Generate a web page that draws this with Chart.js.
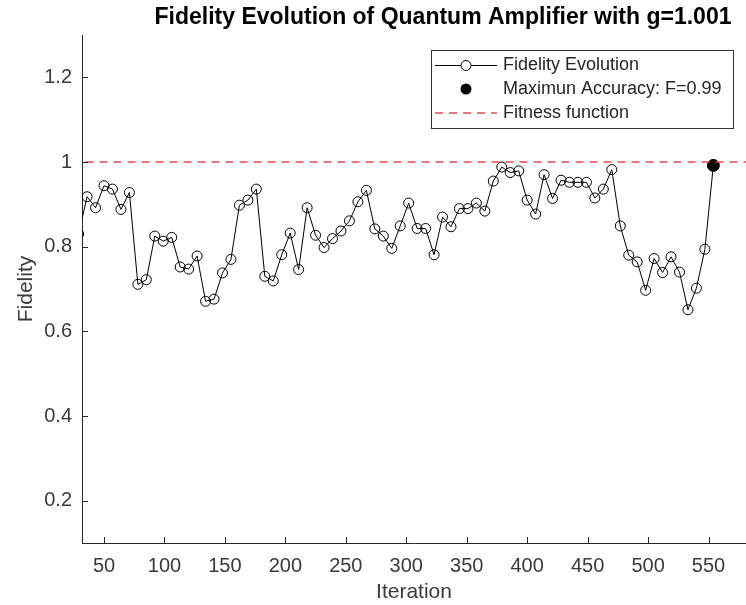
<!DOCTYPE html>
<html><head><meta charset="utf-8">
<script src="https://cdn.jsdelivr.net/npm/chart.js@4/dist/chart.umd.min.js"></script>
<style>html,body{margin:0;padding:0;background:#fff;}#wrap{position:relative;width:746px;height:605px;}</style>
</head><body><div id="wrap"><canvas id="c" width="746" height="605"></canvas></div>
<script>
const iterations = [29,36,43,50,57,64,71,78,85,92,99,106,113,120,127,134,141,148,155,162,169,176,183,190,197,204,211,218,225,232,239,246,253,260,267,274,281,288,295,302,309,316,323,330,337,344,351,358,365,372,379,386,393,400,407,414,421,428,435,442,449,456,463,470,477,484,491,498,505,512,519,526,533,540,547,554];
const fidelity = [0.830,0.918,0.892,0.944,0.936,0.888,0.928,0.711,0.722,0.825,0.813,0.822,0.752,0.747,0.778,0.671,0.676,0.738,0.770,0.898,0.910,0.936,0.730,0.719,0.781,0.832,0.746,0.892,0.827,0.798,0.819,0.837,0.861,0.906,0.933,0.842,0.825,0.796,0.849,0.903,0.843,0.843,0.781,0.870,0.847,0.890,0.890,0.903,0.884,0.955,0.988,0.975,0.979,0.910,0.877,0.970,0.914,0.957,0.952,0.952,0.952,0.915,0.936,0.982,0.849,0.780,0.764,0.697,0.772,0.739,0.776,0.740,0.651,0.702,0.794,0.992];
const fitnessX = [0, 600];
const fitnessY = [1, 1];
const xTicks = [50,100,150,200,250,300,350,400,450,500,550];
const yTicks = [0.2,0.4,0.6,0.8,1,1.2];
const yTickLabels = ['0.2','0.4','0.6','0.8','1','1.2'];
const legendLabels = ['Fidelity Evolution','Maximun Accuracy: F=0.99','Fitness function'];
const titleText = 'Fidelity Evolution of Quantum Amplifier with g=1.001';
const xLabel = 'Iteration';
const yLabel = 'Fidelity';

const FONT = '"Liberation Sans", Arial, Helvetica, sans-serif';
const AX = '#262626';
const RED = 'rgb(232,72,82)';

let maxIdx = 0;
fidelity.forEach((v,i)=>{ if (v > fidelity[maxIdx]) maxIdx = i; });

const fidPts = iterations.map((x,i)=>({x:x, y:fidelity[i]}));
const maxPts = [{x: iterations[maxIdx], y: fidelity[maxIdx]}];
const fitPts = fitnessX.map((x,i)=>({x:x, y:fitnessY[i]}));

const extras = {
  id: 'extras',
  afterDraw(chart) {
    const ctx = chart.ctx;
    const xs = chart.scales.x, ys = chart.scales.y;
    const a = chart.chartArea;
    ctx.save();
    ctx.strokeStyle = AX; ctx.lineWidth = 1;
    ctx.beginPath();
    xTicks.forEach(v => { const px = Math.round(xs.getPixelForValue(v)) + 0.5; ctx.moveTo(px, a.bottom); ctx.lineTo(px, a.bottom - 6); });
    yTicks.forEach(v => { const py = Math.round(ys.getPixelForValue(v)) + 0.5; ctx.moveTo(a.left, py); ctx.lineTo(a.left + 6, py); });
    ctx.stroke();
    ctx.fillStyle = '#000';
    ctx.font = 'bold 23px ' + FONT;
    ctx.textAlign = 'center'; ctx.textBaseline = 'middle';
    ctx.fillText(titleText, 443, 18);
    const L = 431, T = 50, R = 733, B = 128;
    ctx.fillStyle = '#fff';
    ctx.fillRect(L, T, R - L, B - T);
    ctx.strokeStyle = '#333'; ctx.lineWidth = 1;
    ctx.strokeRect(L + 0.5, T + 0.5, R - L, B - T);
    const rows = [65, 89, 113];
    const sx0 = 435, sx1 = 497, sm = 466;
    ctx.strokeStyle = '#000'; ctx.lineWidth = 1;
    ctx.beginPath(); ctx.moveTo(sx0, rows[0] + 0.5); ctx.lineTo(sm - 5, rows[0] + 0.5); ctx.moveTo(sm + 5, rows[0] + 0.5); ctx.lineTo(sx1, rows[0] + 0.5); ctx.stroke();
    ctx.beginPath(); ctx.arc(sm, rows[0] + 0.5, 5, 0, Math.PI * 2); ctx.stroke();
    ctx.fillStyle = '#000';
    ctx.beginPath(); ctx.arc(sm, rows[1], 5.5, 0, Math.PI * 2); ctx.fill();
    ctx.strokeStyle = RED; ctx.lineWidth = 1.5; ctx.setLineDash([8, 6]);
    ctx.beginPath(); ctx.moveTo(sx0, rows[2]); ctx.lineTo(sx1, rows[2]); ctx.stroke();
    ctx.setLineDash([]);
    ctx.fillStyle = AX;
    ctx.font = '18px ' + FONT;
    ctx.textAlign = 'left'; ctx.textBaseline = 'middle';
    legendLabels.forEach((t, i) => ctx.fillText(t, 503, rows[i]));
    ctx.restore();
  }
};

new Chart(document.getElementById('c'), {
  type: 'line',
  data: {
    datasets: [
      { label: legendLabels[2], data: fitPts, borderColor: RED, borderWidth: 1.5, borderDash: [8, 6], pointRadius: 0, fill: false },
      { label: legendLabels[1], data: maxPts, showLine: false, pointRadius: 6, pointBackgroundColor: '#000', pointBorderColor: '#000', pointBorderWidth: 1 },
      { label: legendLabels[0], data: fidPts, borderColor: '#000', borderWidth: 1, pointRadius: 5, pointStyle: 'circle', pointBackgroundColor: 'rgba(0,0,0,0)', pointBorderColor: '#000', pointBorderWidth: 1, tension: 0, fill: false }
    ]
  },
  options: {
    responsive: false, animation: false, devicePixelRatio: 1,
    layout: { autoPadding: false, padding: { top: 35, right: 0, left: 0, bottom: 0 } },
    plugins: { legend: { display: false }, title: { display: false }, tooltip: { enabled: false } },
    scales: {
      x: {
        type: 'linear', min: 31.8, max: 581,
        afterBuildTicks: s => { s.ticks = xTicks.map(v => ({ value: v })); },
        afterFit: s => { s.height = 62; s.paddingLeft = 0; s.paddingRight = 0; },
        grid: { display: true, drawOnChartArea: false, drawTicks: false },
        border: { display: true, color: AX, width: 1 },
        ticks: { font: { family: FONT, size: 20 }, color: '#3a3a3a', padding: 11, maxRotation: 0, autoSkip: false },
        title: { display: true, text: xLabel, font: { family: FONT, size: 21 }, color: '#3a3a3a', padding: { top: 0, bottom: 0 } }
      },
      y: {
        type: 'linear', min: 0.1, max: 1.3,
        afterBuildTicks: s => { s.ticks = yTicks.map(v => ({ value: v })); },
        afterFit: s => { s.width = 82; s.paddingTop = 0; s.paddingBottom = 0; },
        grid: { display: true, drawOnChartArea: false, drawTicks: false },
        border: { display: true, color: AX, width: 1 },
        ticks: { font: { family: FONT, size: 20 }, color: '#3a3a3a', padding: 10, callback: (v) => yTickLabels[yTicks.indexOf(Math.round(v * 10) / 10)] },
        title: { display: true, text: yLabel, font: { family: FONT, size: 21 }, color: '#3a3a3a', padding: { top: 14, bottom: 0 } }
      }
    }
  },
  plugins: [extras]
});
</script></body></html>
